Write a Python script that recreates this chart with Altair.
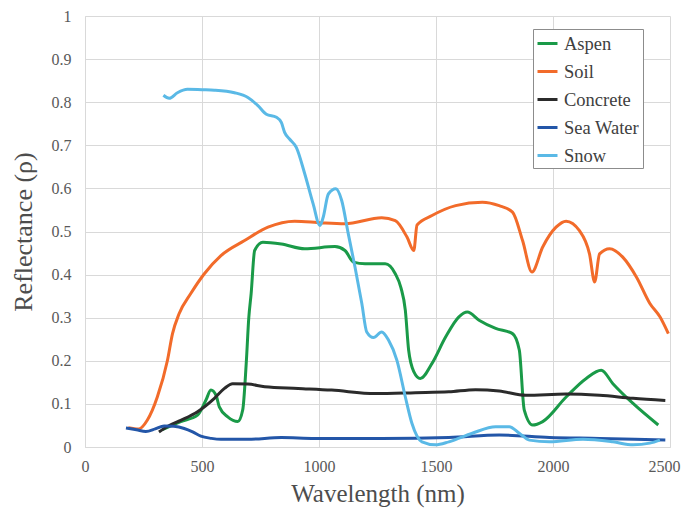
import altair as alt
import pandas as pd

series_order = ["Aspen", "Soil", "Concrete", "Sea Water", "Snow"]
series_colors = ["#1a9a48", "#f26b2a", "#2b2b2b", "#2356a8", "#5ab9e6"]

aspen_wl = [330, 409, 481, 517, 538, 560, 574, 610, 653, 674, 689, 700, 710, 725, 760, 839, 939, 1068, 1111, 1147,
            1197, 1283, 1326, 1350, 1369, 1383, 1405, 1433, 1483, 1541, 1598, 1634, 1684, 1755, 1827, 1856, 1877,
            1913, 1956, 2056, 2142, 2206, 2256, 2342, 2450]
aspen_r = [0.040, 0.059, 0.074, 0.109, 0.132, 0.120, 0.093, 0.070, 0.059, 0.086, 0.194, 0.300, 0.356, 0.456, 0.475,
           0.471, 0.460, 0.465, 0.456, 0.429, 0.425, 0.425, 0.402, 0.370, 0.317, 0.225, 0.175, 0.159, 0.194, 0.255,
           0.302, 0.313, 0.294, 0.275, 0.263, 0.225, 0.086, 0.051, 0.059, 0.116, 0.159, 0.178, 0.147, 0.101, 0.051]

soil_wl = [185, 230, 266, 309, 352, 374, 402, 452, 510, 581, 682, 782, 896, 1011, 1111, 1268, 1326, 1376, 1405,
           1419, 1483, 1584, 1698, 1770, 1827, 1870, 1910, 1956, 2013, 2056, 2113, 2156, 2178, 2199, 2242, 2299,
           2357, 2414, 2457, 2493]
soil_r = [0.045, 0.042, 0.062, 0.116, 0.200, 0.263, 0.309, 0.356, 0.402, 0.444, 0.479, 0.510, 0.524, 0.520, 0.518,
          0.532, 0.525, 0.487, 0.456, 0.515, 0.537, 0.560, 0.568, 0.560, 0.545, 0.479, 0.406, 0.464, 0.510, 0.524,
          0.502, 0.448, 0.383, 0.448, 0.460, 0.440, 0.394, 0.333, 0.302, 0.263]

concrete_wl = [316, 360, 409, 481, 553, 596, 631, 696, 768, 911, 1054, 1240, 1412, 1555, 1669, 1770, 1884, 2056,
               2199, 2342, 2480]
concrete_r = [0.035, 0.050, 0.062, 0.082, 0.113, 0.136, 0.147, 0.146, 0.140, 0.136, 0.132, 0.124, 0.126, 0.128,
              0.133, 0.130, 0.120, 0.123, 0.120, 0.113, 0.108]

sea_wl = [175, 220, 260, 300, 338, 380, 424, 460, 495, 540, 581, 696, 839, 982, 1268, 1555, 1770, 1985, 2199,
          2350, 2480]
sea_r = [0.044, 0.040, 0.036, 0.042, 0.049, 0.048, 0.043, 0.035, 0.025, 0.020, 0.018, 0.018, 0.022, 0.020, 0.020,
         0.022, 0.028, 0.022, 0.020, 0.018, 0.016]

snow_wl = [335, 360, 395, 438, 500, 553, 639, 696, 739, 775, 818, 839, 853, 875, 903, 939, 975, 1004, 1018, 1040,
           1072, 1097, 1125, 1154, 1183, 1204, 1233, 1268, 1297, 1333, 1369, 1397, 1440, 1498, 1555, 1655, 1755,
           1813, 1856, 1899, 1985, 2128, 2256, 2342, 2414, 2457]
snow_r = [0.816, 0.809, 0.822, 0.830, 0.829, 0.828, 0.822, 0.811, 0.792, 0.772, 0.765, 0.753, 0.730, 0.714, 0.695,
          0.634, 0.564, 0.514, 0.533, 0.587, 0.599, 0.572, 0.495, 0.417, 0.333, 0.267, 0.254, 0.267, 0.248, 0.201,
          0.116, 0.055, 0.012, 0.005, 0.012, 0.032, 0.047, 0.047, 0.032, 0.016, 0.012, 0.018, 0.012, 0.005, 0.009,
          0.016]

x_ticks = [0, 500, 1000, 1500, 2000, 2500]
y_ticks = [0, 0.1, 0.2, 0.3, 0.4, 0.5, 0.6, 0.7, 0.8, 0.9, 1]

frames = []
for name, wl, r in [("Aspen", aspen_wl, aspen_r), ("Soil", soil_wl, soil_r), ("Concrete", concrete_wl, concrete_r),
                    ("Sea Water", sea_wl, sea_r), ("Snow", snow_wl, snow_r)]:
    frames.append(pd.DataFrame({"series": name, "wl": wl, "r": r}))
df = pd.concat(frames, ignore_index=True)

FONT = "Liberation Serif"

chart = alt.Chart(df).mark_line(strokeWidth=3, interpolate="monotone").encode(
    x=alt.X("wl:Q", scale=alt.Scale(domain=[0, 2500], nice=False),
            axis=alt.Axis(title="Wavelength (nm)", values=x_ticks, format="d",
                          labelPadding=11, titlePadding=7, titleFontSize=25,
                          labelOffset=alt.ConditionalAxisNumber(
                              condition={"test": "datum.value == 2500", "value": -6}, value=0))),
    y=alt.Y("r:Q", scale=alt.Scale(domain=[0, 1], nice=False),
            axis=alt.Axis(title="Reflectance (ρ)", values=y_ticks, format="~g",
                          labelPadding=14, titlePadding=15, titleFontSize=26)),
    color=alt.Color("series:N", sort=series_order,
                    scale=alt.Scale(domain=series_order, range=series_colors),
                    legend=alt.Legend(title=None, orient="none", legendX=448, legendY=13,
                                      symbolType="stroke", symbolStrokeWidth=3, symbolSize=400,
                                      labelFont=FONT, labelFontSize=18.5, labelColor="#404040",
                                      labelOffset=5, rowPadding=7, padding=3,
                                      strokeColor="#8c8c8c", fillColor="white")),
    order=alt.Order("wl:Q"),
).properties(
    width=585, height=431,
    autosize=alt.AutoSizeParams(type="none"),
    padding={"left": 77, "top": 8, "right": 11, "bottom": 62},
).configure_view(
    stroke=None
).configure_axis(
    labelFont=FONT, labelFontSize=16, labelColor="#595959", labelFlush=False,
    titleFont=FONT, titleColor="#4d4d4d", titleFontWeight="normal",
    gridColor="#d9d9d9", gridWidth=1, domainColor="#d9d9d9", ticks=False, domain=True,
)

chart.save("out.html", embed_options={"renderer": "svg", "actions": False})
